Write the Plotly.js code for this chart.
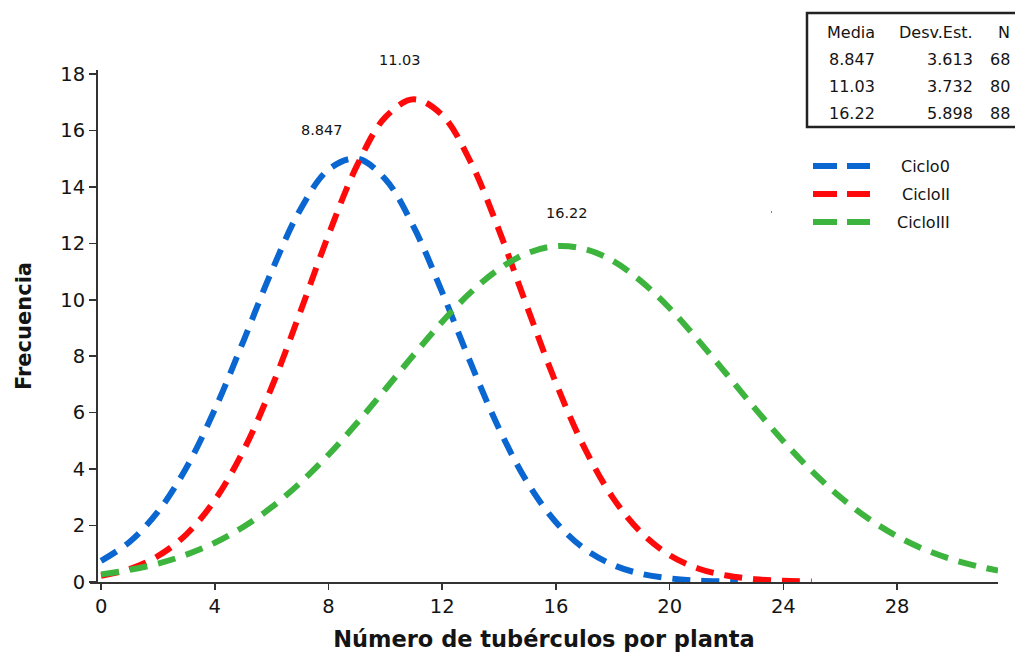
<!DOCTYPE html>
<html>
<head>
<meta charset="utf-8">
<script src="https://cdn.plot.ly/plotly-3.0.1.min.js"></script>
<style>html,body{margin:0;padding:0;background:#fff;}#chart{width:1015px;height:655px;}</style>
</head>
<body>
<div id="chart"></div>
<script>
// ---- data ----
const seriesNames = ["Ciclo0", "CicloII", "CicloIII"];
const xCiclo0 = [0,1,2,3,4,5,6,7,8,9,10,11,12,13,14,15,16,17,18,19,20,21,22,22.4];
const yCiclo0 = [0.75,1.42,2.49,4.05,6.11,8.52,11.01,13.18,14.61,15.00,14.27,12.57,10.26,7.76,5.43,3.52,2.12,1.18,0.61,0.29,0.13,0.05,0.02,0.01];
const xCicloII = [0,1,2,3,4,5,6,7,8,9,10,11,12,13,14,15,16,17,18,19,20,21,22,23,24,25];
const yCicloII = [0.22,0.46,0.92,1.69,2.90,4.64,6.90,9.55,12.30,14.75,16.47,17.10,16.54,14.88,12.46,9.71,7.05,4.76,2.99,1.75,0.95,0.48,0.23,0.10,0.04,0.02];
const xCicloIII = [0,1,2,3,4,5,6,7,8,9,10,11,12,13,14,15,16,17,18,19,20,21,22,23,24,25,26,27,28,29,30,31,31.55];
const yCicloIII = [0.27,0.43,0.65,0.97,1.39,1.95,2.65,3.51,4.51,5.63,6.83,8.05,9.22,10.26,11.09,11.65,11.90,11.80,11.38,10.65,9.70,8.57,7.37,6.15,4.99,3.93,3.01,2.24,1.62,1.14,0.78,0.52,0.41];
const peakLabels = ["8.847", "11.03", "16.22"];
const peakLabelX = [7.77, 10.52, 16.39];
const peakLabelY = [16.02, 18.5, 13.08];
const tableHeader = ["Media", "Desv.Est.", "N"];
const tableMedia = ["8.847", "11.03", "16.22"];
const tableDesv = ["3.613", "3.732", "5.898"];
const tableN = ["68", "80", "88"];
const xTicks = [0,4,8,12,16,20,24,28];
const yTicks = [0,2,4,6,8,10,12,14,16,18];

// ---- styling ----
const colors = ["#0a66d0", "#ff0a0a", "#3db43d"];
const FONT = "DejaVu Sans, Verdana, sans-serif";
const TXT = "#141414";
const W = 1015, H = 655;
const M = {l: 90, r: 17, t: 70, b: 73};
const YMAX = 18.14;
const pw = W - M.l - M.r, ph = H - M.t - M.b;
function px(x) { return (x - M.l) / pw; }
function py(y) { return (H - M.b - y) / ph; }

const xs = [xCiclo0, xCicloII, xCicloIII];
const ys = [yCiclo0, yCicloII, yCicloIII];
const traces = seriesNames.map((n, i) => ({
  type: "scatter", mode: "lines", name: n,
  x: xs[i], y: ys[i],
  line: {color: colors[i], width: 6, dash: "18px,11px", shape: "spline", smoothing: 1},
  showlegend: false, hoverinfo: "x+y"
}));

const annotations = [];
peakLabels.forEach((t, i) => annotations.push({
  x: peakLabelX[i], y: peakLabelY[i] / YMAX, xref: "x", yref: "paper", text: t,
  xanchor: "center", yanchor: "middle",
  showarrow: false, font: {family: FONT, size: 14.5, color: TXT}
}));

// legend drawn manually (right-aligned texts)
const legendRowY = [166, 194, 222];
const shapes = [];
seriesNames.forEach((n, i) => {
  shapes.push({type: "line", xref: "paper", yref: "paper",
    x0: px(813), x1: px(870), y0: py(legendRowY[i]), y1: py(legendRowY[i]),
    line: {color: colors[i], width: 6, dash: "24px,10px"}});
  annotations.push({xref: "paper", yref: "paper", x: px(952), y: py(legendRowY[i]),
    xanchor: "right", yanchor: "middle", text: n, showarrow: false,
    font: {family: FONT, size: 16, color: TXT}});
});
shapes.push({type: "line", xref: "paper", yref: "paper", x0: px(771), x1: px(772), y0: py(212), y1: py(212),
  line: {color: colors[2], width: 2}});

// stats table
shapes.push({type: "rect", xref: "paper", yref: "paper",
  x0: px(807), x1: px(1030), y0: py(13), y1: py(127),
  line: {color: "#222", width: 2.5}, fillcolor: "rgba(0,0,0,0)"});
const colRight = [877, 975, 1012];
const rowY = [32, 59, 86, 113];
const cols = [[tableHeader[0]].concat(tableMedia), [tableHeader[1]].concat(tableDesv), [tableHeader[2]].concat(tableN)];
cols.forEach((col, c) => col.forEach((t, r) => annotations.push({
  xref: "paper", yref: "paper", x: px(colRight[c]), y: py(rowY[r]),
  xanchor: "right", yanchor: "middle", text: t, showarrow: false,
  font: {family: FONT, size: 16, color: TXT}
})));

const layout = {
  width: W, height: H,
  margin: M,
  paper_bgcolor: "#fff", plot_bgcolor: "#fff",
  showlegend: false,
  font: {family: FONT, color: TXT},
  xaxis: {
    range: [-0.39, 31.55], tickvals: xTicks, ticktext: xTicks.map(String),
    showgrid: false, zeroline: false, showline: true, linecolor: "#333", linewidth: 2,
    ticks: "outside", ticklen: 6, tickwidth: 1.5, tickcolor: "#333",
    tickfont: {family: FONT, size: 19.5, color: TXT},
    title: {text: "<b>Número de tubérculos por planta</b>", font: {family: FONT, size: 22.5, color: TXT}, standoff: 14}
  },
  yaxis: {
    range: [0, YMAX], tickvals: yTicks, ticktext: yTicks.map(String),
    anchor: "free", position: px(97),
    showgrid: false, zeroline: false, showline: true, linecolor: "#333", linewidth: 2,
    ticks: "outside", ticklen: 7, tickwidth: 1.5, tickcolor: "#333",
    tickfont: {family: FONT, size: 19.5, color: TXT},
    title: {text: "<b>Frecuencia</b>", font: {family: FONT, size: 21, color: TXT}, standoff: 22}
  },
  annotations: annotations,
  shapes: shapes
};

Plotly.newPlot("chart", traces, layout, {displayModeBar: false, staticPlot: true});
</script>
</body>
</html>
